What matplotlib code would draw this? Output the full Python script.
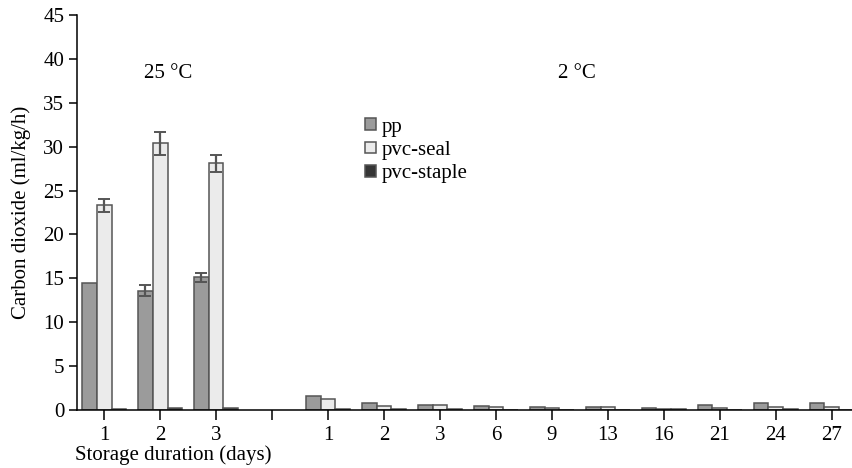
"""
plot.py -- CO2 production by packaging type, 25 C vs 2 C storage.
"""
import numpy as np
import matplotlib
matplotlib.use("Agg")
import matplotlib.pyplot as plt

# x categories: three days at 25 C, one empty slot, then ten days at 2 C
tick_labels = ["1", "2", "3", "", "1", "2", "3", "6", "9", "13", "16", "21", "24", "27"]

pp = [14.5, 13.6, 15.1, np.nan, 1.65, 0.75, 0.6, 0.5, 0.4, 0.35, 0.25, 0.55, 0.75, 0.85]
pvc_seal = [23.3, 30.4, 28.1, np.nan, 1.25, 0.5, 0.55, 0.3, 0.25, 0.3, 0.15, 0.2, 0.3, 0.3]
pvc_staple = [0.15, 0.2, 0.25, np.nan, 0.15, 0.15, 0.1, 0.05, 0.05, 0.05, 0.1, 0.05, 0.1, 0.05]

# error bars only drawn on the 25 C days (pp day 1 shows none)
pp_err_idx = [1, 2]
pp_err = [0.65, 0.5]
seal_err_idx = [0, 1, 2]
seal_err = [0.75, 1.3, 1.0]

plt.rcParams["font.family"] = ["Liberation Serif", "DejaVu Serif"]
FS = 15

fig = plt.figure(figsize=(8.52, 4.68), dpi=100)
ax = fig.add_axes([0.09, 0.1239, 0.91, 0.844])

x = np.arange(len(tick_labels))
w = 0.265
series = [
    (pp, "pp", "#9b9b9b"),
    (pvc_seal, "pvc-seal", "#ebebeb"),
    (pvc_staple, "pvc-staple", "#353535"),
]
for i, (vals, name, col) in enumerate(series):
    ax.bar(x + (i - 1) * w, vals, w, color=col, edgecolor="#555555",
           linewidth=1.1, label=name, zorder=2)

ekw = dict(fmt="none", ecolor="#555555", elinewidth=1.6, capsize=4.5,
           capthick=1.4, zorder=3)
ax.errorbar(x[pp_err_idx] - w, np.array(pp)[pp_err_idx], yerr=pp_err, **ekw)
ax.errorbar(x[seal_err_idx], np.array(pvc_seal)[seal_err_idx],
            yerr=seal_err, **ekw)

ax.set_xlim(-0.49, 13.36)
ax.set_ylim(0, 45)
ax.set_yticks(range(0, 46, 5))
ax.set_xticks(x)
ax.set_xticklabels(tick_labels)
ax.tick_params(axis="both", direction="out", labelsize=FS, width=1.1)
ax.tick_params(axis="y", length=6, pad=3)
ax.tick_params(axis="x", length=7.2, pad=4)
for s in ("top", "right"):
    ax.spines[s].set_visible(False)
for s in ("left", "bottom"):
    ax.spines[s].set_linewidth(1.1)

ax.set_ylabel("Carbon dioxide (ml/kg/h)", fontsize=FS, labelpad=9)
fig.text(0.088, 0.006, "Storage duration (days)", fontsize=FS, ha="left",
         va="bottom")

ax.text(1.15, 38.3, "25 \u00b0C", fontsize=FS, ha="center", va="center")
ax.text(8.45, 38.3, "2 \u00b0C", fontsize=FS, ha="center", va="center")

ax.legend(loc="upper left", bbox_to_anchor=(0.372, 0.74), frameon=False,
          fontsize=FS, handlelength=0.5, handleheight=0.5,
          handletextpad=0.3, labelspacing=0.2, borderaxespad=0,
          borderpad=0)

fig.savefig("out.png", dpi=100)
